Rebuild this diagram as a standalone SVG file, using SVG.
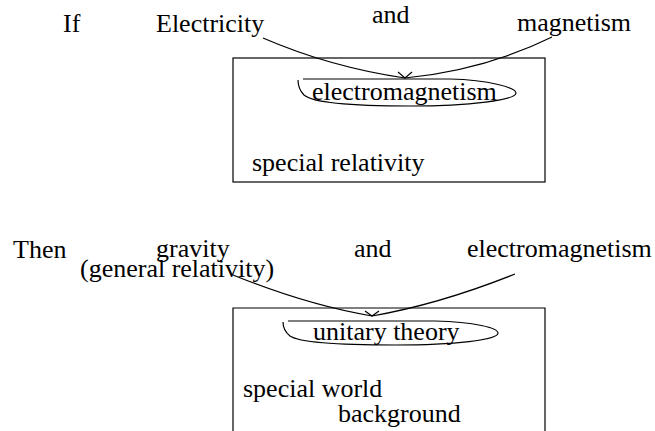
<svg xmlns="http://www.w3.org/2000/svg" width="655" height="431" viewBox="0 0 655 431" font-family="'Liberation Serif', 'Times New Roman', Times, serif" font-size="26">
<style>
text{font-family:'Liberation Serif','Times New Roman',Times,serif;font-size:26px;fill:#000}
.ln{fill:none;stroke:#000;stroke-width:1.2}
</style>
<rect width="655" height="431" fill="#fff"/>
<g id="labels-top">
<text x="63" y="32">If</text>
<text x="156" y="32">Electricity</text>
<text x="372" y="23">and</text>
<text x="517" y="31">magnetism</text>
</g>
<g id="box-special-relativity">
<rect class="ln" x="233" y="58" width="312" height="124"/>
<text x="252" y="171">special relativity</text>
</g>
<g id="node-electromagnetism">
<path class="ln" d="M303,79 L450,79 C490,80 516,88 516,93 C516,100 470,106 410,106 C350,106 313,103 304,95 C300,91 298,86 298,80"/>
<text x="312" y="100">electromagnetism</text>
</g>
<g id="labels-bottom">
<text x="13" y="258">Then</text>
<text x="156" y="257">gravity</text>
<text x="80" y="277">(general relativity)</text>
<text x="354" y="257">and</text>
<text x="467" y="257">electromagnetism</text>
</g>
<g id="box-special-world">
<path class="ln" d="M233,432 V308 H545 V432"/>
<text x="243" y="397">special world</text>
<text x="338" y="422">background</text>
</g>
<g id="node-unitary-theory">
<path class="ln" d="M288,321 L435,321 C475,322 498,328 498,333 C498,340 455,345 395,345 C340,345 300,343 290,336 C285,332 283,327 283,322"/>
<text x="313" y="340">unitary theory</text>
</g>
<g id="connectors">
<path class="ln" d="M263,38 Q330,67 405,78"/>
<path class="ln" d="M552,37 Q485,70 405,78"/>
<path class="ln" d="M398,72 L405,78 L412,72"/>
<path class="ln" d="M233,275 Q307,305 372,316"/>
<path class="ln" d="M515,274 Q440,304 372,316"/>
<path class="ln" d="M365,311 L372,316 L379,311"/>
</g>
</svg>
